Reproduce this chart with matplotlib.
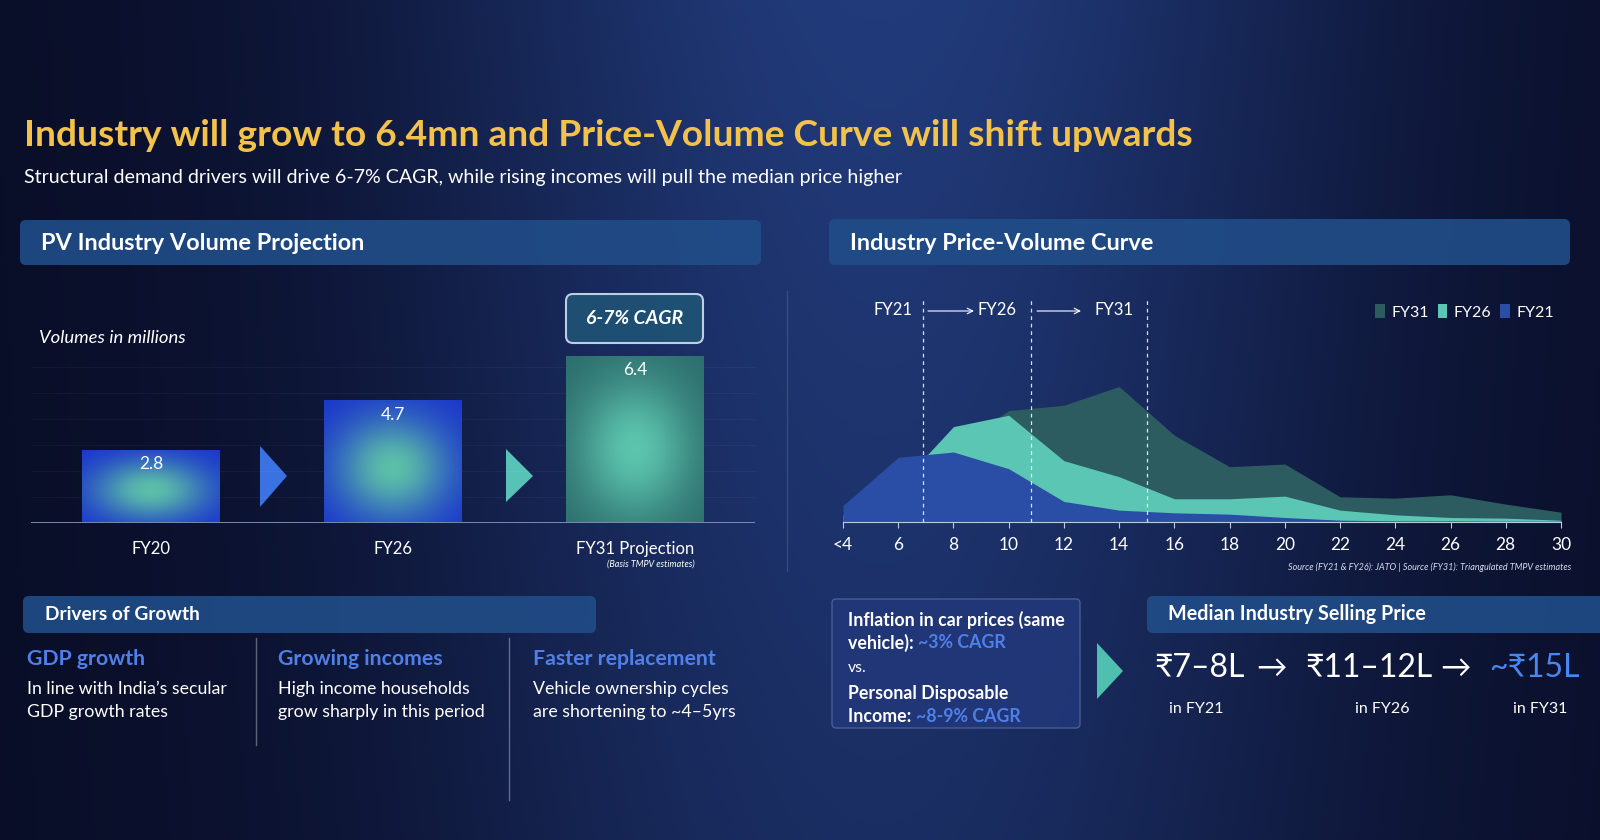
import matplotlib
matplotlib.use('Agg')
import matplotlib.pyplot as plt
from matplotlib.patches import FancyBboxPatch, Polygon
import numpy as np

plt.rcParams['font.family'] = ['Lato', 'DejaVu Sans']

# ---- data ----
vol_labels = ['FY20', 'FY26', 'FY31 Projection']
vol_values = [2.8, 4.7, 6.4]

price_bands = ['<4', '6', '8', '10', '12', '14', '16', '18', '20', '22', '24', '26', '28', '30']
fy31 = [0.8, 4.0, 11.0, 16.6, 17.4, 20.2, 12.9, 8.2, 8.6, 3.7, 3.5, 4.0, 2.6, 1.4]
fy26 = [1.0, 5.3, 14.2, 15.9, 9.1, 6.7, 3.4, 3.4, 3.8, 1.7, 1.0, 0.6, 0.5, 0.2]
fy21 = [2.4, 9.6, 10.4, 7.9, 3.0, 1.7, 1.3, 1.1, 0.6, 0.2, 0.1, 0.1, 0.05, 0.05]
median_marks = [1.45, 3.41, 5.51]
median_years = ['FY21', 'FY26', 'FY31']

drivers = ['GDP growth', 'Growing incomes', 'Faster replacement']
driver_text = ["In line with India\u2019s secular\nGDP growth rates",
               "High income households\ngrow sharply in this period",
               "Vehicle ownership cycles\nare shortening to ~4\u20135yrs"]

prices = ['\u20b97\u20138L', '\u20b911\u201312L', '~\u20b915L']
price_years = ['in FY21', 'in FY26', 'in FY31']

W, H = 1600, 840
fig = plt.figure(figsize=(16, 8.4), dpi=100)

# ---- background (pixel coordinates, y down) ----
bg = fig.add_axes([0, 0, 1, 1])
xs = np.linspace(0, 1, 400)
ys = np.linspace(0, 1, 210)
X, Y = np.meshgrid(xs, ys)
glow = np.exp(-((X - 0.55) / 0.30) ** 2) * (1 - 0.28 * Y)
dark = np.array([0.035, 0.05, 0.15])
light = np.array([0.13, 0.23, 0.48])
img = dark + (light - dark) * glow[..., None]
bg.imshow(img, extent=(0, W, H, 0), aspect='auto', zorder=0)
bg.set_xlim(0, W)
bg.set_ylim(H, 0)
bg.axis('off')

white = '#ffffff'
blue_txt = '#4f80ea'
box_col = '#214d88'


def box(x, y, w, h, fc=box_col, ec='none', lw=0, alpha=0.9, r=6):
    p = FancyBboxPatch((x, y), w, h, boxstyle='round,pad=0,rounding_size=%d' % r,
                       fc=fc, ec=ec, lw=lw, alpha=alpha, zorder=1)
    bg.add_patch(p)
    return p


# title
bg.text(24, 135, 'Industry will grow to 6.4mn and Price-Volume Curve will shift upwards',
        color='#f3c24a', fontsize=26.7, fontweight='bold', va='center')
bg.text(24, 177, 'Structural demand drivers will drive 6-7% CAGR, while rising incomes will pull the median price higher',
        color=white, fontsize=14.1, va='center')

# section headers
box(20, 220, 741, 45)
bg.text(41, 243, 'PV Industry Volume Projection', color=white, fontsize=16.9, fontweight='bold', va='center')
box(829, 219, 741, 46)
bg.text(850, 243, 'Industry Price-Volume Curve', color=white, fontsize=16.9, fontweight='bold', va='center')

# ---- left: volume bars ----
ax1 = fig.add_axes([31 / W, (H - 522.5) / H, 724 / W, 182.5 / H])
ax1.patch.set_alpha(0)
xpos = np.arange(len(vol_values))
bars = ax1.bar(xpos, vol_values, width=0.57, color='none', zorder=2)
edge_cols = [np.array([0.10, 0.20, 0.80]), np.array([0.10, 0.20, 0.80]), np.array([0.17, 0.42, 0.42])]
mid_cols = [np.array([0.36, 0.75, 0.66]), np.array([0.36, 0.75, 0.66]), np.array([0.36, 0.77, 0.68])]
gx, gy = np.meshgrid(np.linspace(-1, 1, 80), np.linspace(-1, 1, 120))
for b, ec, mc in zip(bars, edge_cols, mid_cols):
    r2 = gx ** 2 + (gy - 0.12) ** 2
    t = np.exp(-r2 * 1.4)[..., None]
    im = ax1.imshow(ec + (mc - ec) * t, extent=(b.get_x(), b.get_x() + b.get_width(), 0, b.get_height()),
                    aspect='auto', zorder=2)
    im.set_clip_path(b)
    ax1.text(b.get_x() + b.get_width() / 2, b.get_height() - 0.55, '%.1f' % b.get_height(),
             ha='center', va='center', color=white, fontsize=12.5, zorder=3)
for gyv in range(1, 7):
    ax1.axhline(gyv, color=white, lw=0.8, alpha=0.04, zorder=1)
ax1.axhline(0, color='#8d9bc4', lw=1.2, zorder=3)
ax1.set_xlim(-0.496, 2.496)
ax1.set_ylim(0, 182.5 / 26)
ax1.axis('off')

for xc, lab in zip([151, 393, 635], vol_labels):
    bg.text(xc, 549, lab, color=white, fontsize=12, ha='center', va='center')
bg.text(651, 564, '(Basis TMPV estimates)', color=white, fontsize=6.5, style='italic', ha='center', va='center')
bg.text(39, 338, 'Volumes in millions', color=white, fontsize=13.3, style='italic', va='center')

box(566, 294, 137, 49, fc='#1f5274', ec='#c9d6ee', lw=1.5, alpha=0.95, r=7)
bg.text(634.5, 318.5, '6-7% CAGR', color=white, fontsize=14, fontweight='bold', style='italic',
        ha='center', va='center', zorder=3)

bg.add_patch(Polygon([(260, 446), (287, 476), (260, 507)], closed=True, fc='#3a72e2', ec='none', zorder=2))
bg.add_patch(Polygon([(506, 449), (533, 476), (506, 502)], closed=True, fc='#58c2b6', ec='none', zorder=2))

# panel divider
bg.plot([787, 787], [291, 571], color=white, lw=1, alpha=0.12, zorder=1)

# ---- right: price-volume curve ----
ax2 = fig.add_axes([843 / W, (H - 521.5) / H, 718 / W, 231.5 / H])
ax2.patch.set_alpha(0)
px = np.arange(len(price_bands))
ax2.fill_between(px, 0, fy31, color='#2c5b60', lw=0, label='FY31', zorder=2)
ax2.fill_between(px, 0, fy26, color='#5bc6b3', lw=0, label='FY26', zorder=3)
ax2.fill_between(px, 0, fy21, color='#2a4da6', lw=0, label='FY21', zorder=4)
ax2.vlines(median_marks, 0, 33.3, colors=white, linestyles=(0, (3, 3)), lw=0.9, alpha=0.85, zorder=5)
ax2.set_xlim(0, 13)
ax2.set_ylim(0, 231.5 / 135 * 20.2)
ax2.set_xticks(px)
ax2.set_xticklabels(price_bands)
ax2.tick_params(axis='x', colors='#c0c8e0', labelcolor=white, labelsize=12.5, length=4, pad=7)
ax2.set_yticks([])
for s in ['top', 'right', 'left']:
    ax2.spines[s].set_visible(False)
ax2.spines['bottom'].set_color('#c0c8e0')
ax2.spines['bottom'].set_zorder(6)
ax2.legend(loc='center right', bbox_to_anchor=(1.01, 0.905), ncol=3, frameon=False,
           handlelength=0.6, handleheight=1.0, handletextpad=0.4, columnspacing=0.55,
           fontsize=11.5, labelcolor=white)

for xc, lab in zip([893, 997, 1114], median_years):
    bg.text(xc, 310, lab, color=white, fontsize=12, ha='center', va='center', zorder=3)
for x0, x1 in [(928, 974), (1037, 1081)]:
    bg.annotate('', xy=(x1, 311), xytext=(x0, 311),
                arrowprops=dict(arrowstyle='->', color=white, lw=0.8, shrinkA=0, shrinkB=0), zorder=3)
bg.text(1571, 567, 'Source (FY21 & FY26): JATO | Source (FY31): Triangulated TMPV estimates',
        color='#d6dcf0', fontsize=6.5, style='italic', ha='right', va='center')

# ---- bottom left: drivers ----
box(23, 596, 573, 37)
bg.text(45, 614, 'Drivers of Growth', color=white, fontsize=13.8, fontweight='bold', va='center')
for xc, head, body in zip([27, 278, 533], drivers, driver_text):
    bg.text(xc, 659, head, color=blue_txt, fontsize=15.3, fontweight='bold', va='center')
    bg.text(xc, 681, body, color=white, fontsize=12.8, va='top', linespacing=1.55)
bg.plot([256, 256], [638, 745], color=white, lw=1, alpha=0.35)
bg.plot([509, 509], [638, 800], color=white, lw=1, alpha=0.35)

# ---- bottom right: prices ----
box(832, 599, 248, 129, fc='#22387a', ec='#51649a', lw=1, alpha=0.85, r=4)
fs = 12.8
t1 = bg.text(848, 620, 'Inflation in car prices (same', color=white, fontsize=fs, fontweight='bold', va='center')
t2 = bg.text(848, 643, 'vehicle): ', color=white, fontsize=fs, fontweight='bold', va='center')
bg.annotate('~3% CAGR', xy=(1, 0.5), xycoords=t2, va='center', color=blue_txt, fontsize=fs, fontweight='bold')
bg.text(848, 668, 'vs.', color=white, fontsize=fs - 1.5, va='center')
bg.text(848, 694, 'Personal Disposable', color=white, fontsize=fs, fontweight='bold', va='center')
t3 = bg.text(848, 716, 'Income: ', color=white, fontsize=fs, fontweight='bold', va='center')
bg.annotate('~8-9% CAGR', xy=(1, 0.5), xycoords=t3, va='center', color=blue_txt, fontsize=fs, fontweight='bold')

bg.add_patch(Polygon([(1097, 643), (1123, 671), (1097, 699)], closed=True, fc='#4fc0b0', ec='none', zorder=2))

box(1147, 596, 470, 37)
bg.text(1168, 614, 'Median Industry Selling Price', color=white, fontsize=14.2, fontweight='bold', va='center')

for xl, p, c in zip([1154, 1305, 1489], prices, [white, white, '#4a86f0']):
    bg.text(xl, 668, p, color=c, fontsize=23, va='center')
for xl in [1256, 1440]:
    bg.text(xl, 668, '\u2192', color=white, fontsize=22, va='center')
for xc, lab in zip([1196, 1382, 1540], price_years):
    bg.text(xc, 709, lab, color=white, fontsize=11.5, ha='center', va='center')

fig.savefig('out.png', dpi=100)
